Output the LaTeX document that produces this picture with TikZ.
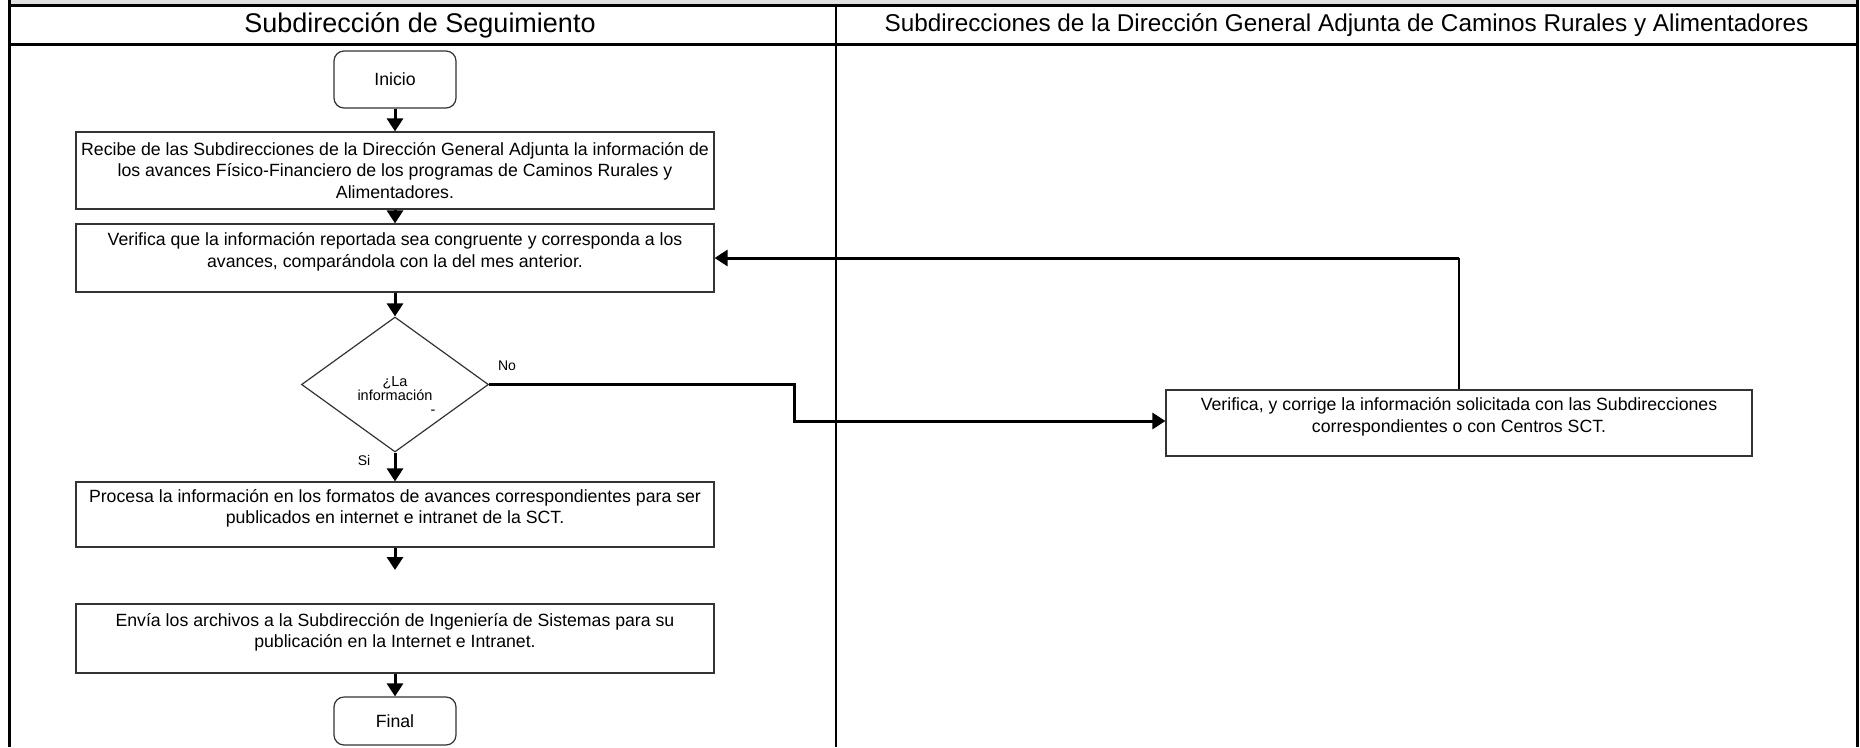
\documentclass[tikz,border=0pt]{standalone}
\usepackage{fontspec}
\setmainfont{Liberation Sans}
\usepackage{xcolor}
\usepackage{tikz}
\usetikzlibrary{arrows.meta}
\usetikzlibrary{shapes.geometric}

\begin{document}
\begin{tikzpicture}[x = 1pt, y = -1pt,
		flecha/.style = {line width = 3pt, -{Triangle[width = 16pt, length = 13pt]}},
		caja/.style = {draw = black!80, line width = 1.2pt, minimum width = 638pt, inner sep = 0pt, align = center, font = \fontsize{17.7}{21.5}\selectfont},
		subir/.style = {execute at end node = {\rule[-16pt]{0pt}{0pt}}},
		terminal/.style = {draw = black!80, line width = 1.2pt, rounded corners = 10pt, minimum width = 122pt, font = \fontsize{17.7}{20}\selectfont},
		etiqueta/.style = {font = \fontsize{14}{16}\selectfont}]
		\useasboundingbox (0,0) rectangle (1860,747);
		\fill[black!12] (9,0) rectangle (1857,4);
		\draw[line width = 3pt] (9,0) -- (9,747);
		\draw[line width = 3pt] (1857,0) -- (1857,747);
		\draw[line width = 3pt] (9,5) -- (1857,5);
		\draw[line width = 3pt] (9,44) -- (1857,44);
		\draw[line width = 2pt] (836,5) -- (836,747);
		\node[font = \fontsize{27}{30}\selectfont] (seguimiento) at (420, 25) {Subdirección de Seguimiento};
		\node[font = \fontsize{24.3}{28}\selectfont] (direccion) at (1346.5, 25) {Subdirecciones de la Dirección General Adjunta de Caminos Rurales y Alimentadores};
		\node[terminal, minimum height = 57pt] (inicio) at (395, 79.5) {Inicio};
		\node[caja, minimum height = 77pt] (recibe) at (395, 170.5) {Recibe de las Subdirecciones de la Dirección General Adjunta la información de\\los avances Físico-Financiero de los programas de Caminos Rurales y\\Alimentadores.};
		\node[caja, subir, minimum height = 68pt] (verifica) at (395, 258) {Verifica que la información reportada sea congruente y corresponda a los\\avances, comparándola con la del mes anterior.};
		\node[diamond, aspect = 1.385, draw = black!80, line width = 1.2pt, minimum width = 187pt, minimum height = 135pt, inner sep = 0pt, align = center, font = \fontsize{14.5}{14}\selectfont] (decide) at (395, 384.5) {\rule{0pt}{32pt}¿La\\información\\\hspace*{76pt}-};
		\node[caja, subir, minimum height = 65pt] (procesa) at (395, 514.5) {Procesa la información en los formatos de avances correspondientes para ser\\publicados en internet e intranet de la SCT.};
		\node[caja, subir, minimum height = 69pt] (envia) at (395, 638.5) {Envía los archivos a la Subdirección de Ingeniería de Sistemas para su\\publicación en la Internet e Intranet.};
		\node[terminal, minimum height = 48pt] (final) at (395, 721) {Final};
		\node[caja, subir, minimum width = 586pt, minimum height = 66pt] (corrige) at (1459, 423) {Verifica, y corrige la información solicitada con las Subdirecciones\\correspondientes o con Centros SCT.};
		\node[etiqueta] (no) at (507, 366) {No};
		\node[etiqueta] (si) at (364, 460) {Si};
		\coordinate (quiebre) at (794, 421);
		\coordinate (punta) at (395, 570);
		\coordinate (esquina) at (corrige.north |- verifica.east);
		\draw [flecha] (inicio) -- (recibe);
		\draw [flecha] (recibe) -- (verifica);
		\draw [flecha] (verifica) -- (decide);
		\draw [flecha] (decide) -- (procesa);
		\draw [flecha] (decide.east) -- (decide.east -| quiebre) -- (quiebre) -- (quiebre -| corrige.west);
		\draw [line width = 1.2pt] (corrige.north) -- (esquina);
		\draw [flecha] (esquina) -- (verifica.east);
		\draw [flecha] (procesa) -- (punta);
		\draw [flecha] (envia) -- (final);
	\end{tikzpicture}
\end{document}
